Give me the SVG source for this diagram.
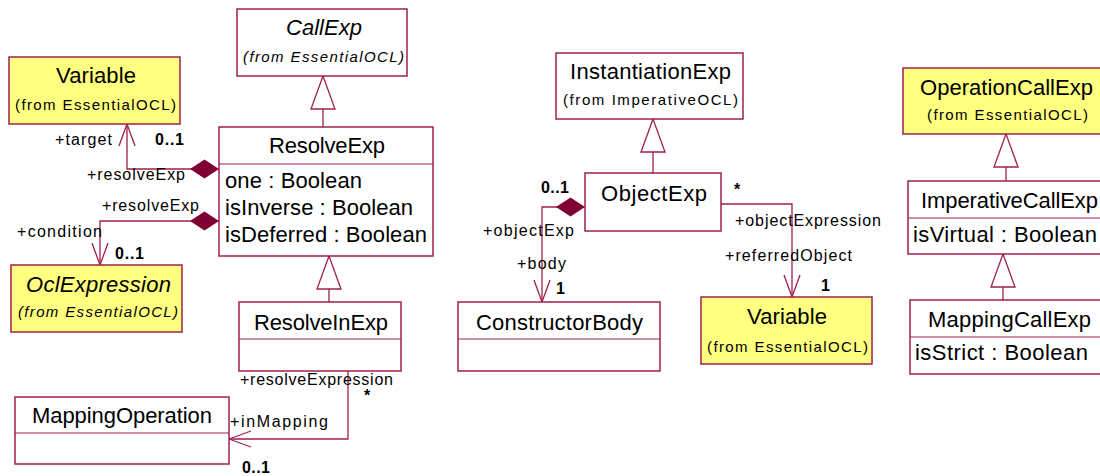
<svg xmlns="http://www.w3.org/2000/svg" width="1100" height="476" viewBox="0 0 1100 476">
<style>
.box{fill:#ffffff;stroke:#a0204a;stroke-width:1.5}
.yel{fill:#ffff80}
.div{stroke:#a0204a;stroke-width:1.2}
.conn{fill:none;stroke:#a0204a;stroke-width:1.3}
text{font-family:"Liberation Sans",Arial,sans-serif;fill:#000}
.t{font-size:22px}
.f{font-size:15px}
.i{font-style:italic}
.l{font-size:16px}
.m{font-size:16px;font-weight:bold}
</style>
<defs>
<marker id="tri" markerUnits="userSpaceOnUse" viewBox="0 0 35 28" refX="34" refY="14" markerWidth="35" markerHeight="28" orient="auto">
<path d="M34,14 L1,2 L1,26 Z" fill="#ffffff" stroke="#a0204a" stroke-width="1.3"/>
</marker>
<marker id="arr" markerUnits="userSpaceOnUse" viewBox="0 0 24 20" refX="23" refY="10" markerWidth="24" markerHeight="20" orient="auto">
<path d="M1,2 L23,10 L1,18" fill="none" stroke="#a0204a" stroke-width="1.3"/>
</marker>
<marker id="dia" markerUnits="userSpaceOnUse" viewBox="0 0 30 20" refX="0" refY="10" markerWidth="30" markerHeight="20" orient="auto">
<path d="M0,10 L14.5,0.5 L29,10 L14.5,19.5 Z" fill="#800033"/>
</marker>
</defs>

<g id="connectors">
<path class="conn" d="M219,169 H127 V124" marker-start="url(#dia)" marker-end="url(#arr)"/>
<path class="conn" d="M219,221 H100 V265" marker-start="url(#dia)" marker-end="url(#arr)"/>
<path class="conn" d="M348,371 V439 H229" marker-end="url(#arr)"/>
<path class="conn" d="M585,207 H542 V302" marker-start="url(#dia)" marker-end="url(#arr)"/>
<path class="conn" d="M721,204 H792 V297" marker-end="url(#arr)"/>
<path class="conn" d="M323,127 V76" marker-end="url(#tri)"/>
<path class="conn" d="M329,302 V256" marker-end="url(#tri)"/>
<path class="conn" d="M653,173 V119" marker-end="url(#tri)"/>
<path class="conn" d="M1006,181 V134" marker-end="url(#tri)"/>
<path class="conn" d="M1003,300 V254" marker-end="url(#tri)"/>
<g id="labels">
<text class="l" x="55" y="145" textLength="57" lengthAdjust="spacing">+target</text>
<text class="m" x="155" y="145" textLength="29" lengthAdjust="spacing">0..1</text>
<text class="l" x="87" y="180" textLength="98" lengthAdjust="spacing">+resolveExp</text>
<text class="l" x="102" y="211" textLength="97" lengthAdjust="spacing">+resolveExp</text>
<text class="l" x="17" y="237" textLength="85" lengthAdjust="spacing">+condition</text>
<text class="m" x="115" y="259" textLength="29" lengthAdjust="spacing">0..1</text>
<text class="l" x="240" y="385" textLength="153" lengthAdjust="spacing">+resolveExpression</text>
<text class="m" x="364" y="401">*</text>
<text class="l" x="230" y="427" textLength="98" lengthAdjust="spacing">+inMapping</text>
<text class="m" x="242" y="473" textLength="28" lengthAdjust="spacing">0..1</text>
<text class="m" x="541" y="193" textLength="28" lengthAdjust="spacing">0..1</text>
<text class="l" x="483" y="236" textLength="91" lengthAdjust="spacing">+objectExp</text>
<text class="l" x="517" y="269" textLength="49" lengthAdjust="spacing">+body</text>
<text class="m" x="556" y="294">1</text>
<text class="m" x="734" y="195">*</text>
<text class="l" x="735" y="226" textLength="146" lengthAdjust="spacing">+objectExpression</text>
<text class="l" x="725" y="261" textLength="127" lengthAdjust="spacing">+referredObject</text>
<text class="m" x="821" y="291">1</text>
</g>
</g>

<g id="CallExp">
<rect class="box" x="237" y="9" width="170" height="67"/>
<text class="t i" x="286" y="35" textLength="76" lengthAdjust="spacing">CallExp</text>
<text class="f i" x="243" y="62" textLength="161" lengthAdjust="spacing">(from EssentialOCL)</text>
</g>

<g id="Variable1">
<rect class="box yel" x="9" y="57" width="171" height="67"/>
<text class="t" x="56" y="83" textLength="80" lengthAdjust="spacing">Variable</text>
<text class="f" x="15" y="110" textLength="161" lengthAdjust="spacing">(from EssentialOCL)</text>
</g>

<g id="ResolveExp">
<rect class="box" x="219" y="127" width="214" height="129"/>
<line class="div" x1="219" y1="164" x2="433" y2="164"/>
<text class="t" x="269" y="153" textLength="116" lengthAdjust="spacing">ResolveExp</text>
<text class="t" x="225" y="188" textLength="137" lengthAdjust="spacing">one : Boolean</text>
<text class="t" x="225" y="215" textLength="188" lengthAdjust="spacing">isInverse : Boolean</text>
<text class="t" x="225" y="242" textLength="202" lengthAdjust="spacing">isDeferred : Boolean</text>
</g>

<g id="OclExpression">
<rect class="box yel" x="11" y="265" width="171" height="67"/>
<text class="t i" x="26" y="292" textLength="145" lengthAdjust="spacing">OclExpression</text>
<text class="f i" x="18" y="317" textLength="160" lengthAdjust="spacing">(from EssentialOCL)</text>
</g>

<g id="ResolveInExp">
<rect class="box" x="239" y="302" width="162" height="69"/>
<line class="div" x1="239" y1="339" x2="401" y2="339"/>
<text class="t" x="254" y="330" textLength="134" lengthAdjust="spacing">ResolveInExp</text>
</g>

<g id="MappingOperation">
<rect class="box" x="15" y="397" width="214" height="67"/>
<line class="div" x1="15" y1="433" x2="229" y2="433"/>
<text class="t" x="32" y="423" textLength="180" lengthAdjust="spacing">MappingOperation</text>
</g>

<g id="InstantiationExp">
<rect class="box" x="556" y="53" width="187" height="66"/>
<text class="t" x="570" y="79" textLength="161" lengthAdjust="spacing">InstantiationExp</text>
<text class="f" x="563" y="105" textLength="175" lengthAdjust="spacing">(from ImperativeOCL)</text>
</g>

<g id="ObjectExp">
<rect class="box" x="585" y="173" width="136" height="58"/>
<text class="t" x="601" y="201" textLength="106" lengthAdjust="spacing">ObjectExp</text>
</g>

<g id="ConstructorBody">
<rect class="box" x="458" y="302" width="202" height="69"/>
<line class="div" x1="458" y1="339" x2="660" y2="339"/>
<text class="t" x="476" y="330" textLength="167" lengthAdjust="spacing">ConstructorBody</text>
</g>

<g id="Variable2">
<rect class="box yel" x="701" y="297" width="171" height="67"/>
<text class="t" x="747" y="324" textLength="80" lengthAdjust="spacing">Variable</text>
<text class="f" x="707" y="352" textLength="161" lengthAdjust="spacing">(from EssentialOCL)</text>
</g>

<g id="OperationCallExp">
<rect class="box yel" x="903" y="68" width="210" height="66"/>
<text class="t" x="920" y="95" textLength="173" lengthAdjust="spacing">OperationCallExp</text>
<text class="f" x="927" y="120" textLength="161" lengthAdjust="spacing">(from EssentialOCL)</text>
</g>

<g id="ImperativeCallExp">
<rect class="box" x="908" y="181" width="205" height="73"/>
<line class="div" x1="908" y1="218" x2="1113" y2="218"/>
<text class="t" x="921" y="208" textLength="177" lengthAdjust="spacing">ImperativeCallExp</text>
<text class="t" x="913" y="242" textLength="184" lengthAdjust="spacing">isVirtual : Boolean</text>
</g>

<g id="MappingCallExp">
<rect class="box" x="910" y="300" width="203" height="74"/>
<line class="div" x1="910" y1="337" x2="1113" y2="337"/>
<text class="t" x="928" y="327" textLength="163" lengthAdjust="spacing">MappingCallExp</text>
<text class="t" x="915" y="360" textLength="173" lengthAdjust="spacing">isStrict : Boolean</text>
</g>
</svg>
